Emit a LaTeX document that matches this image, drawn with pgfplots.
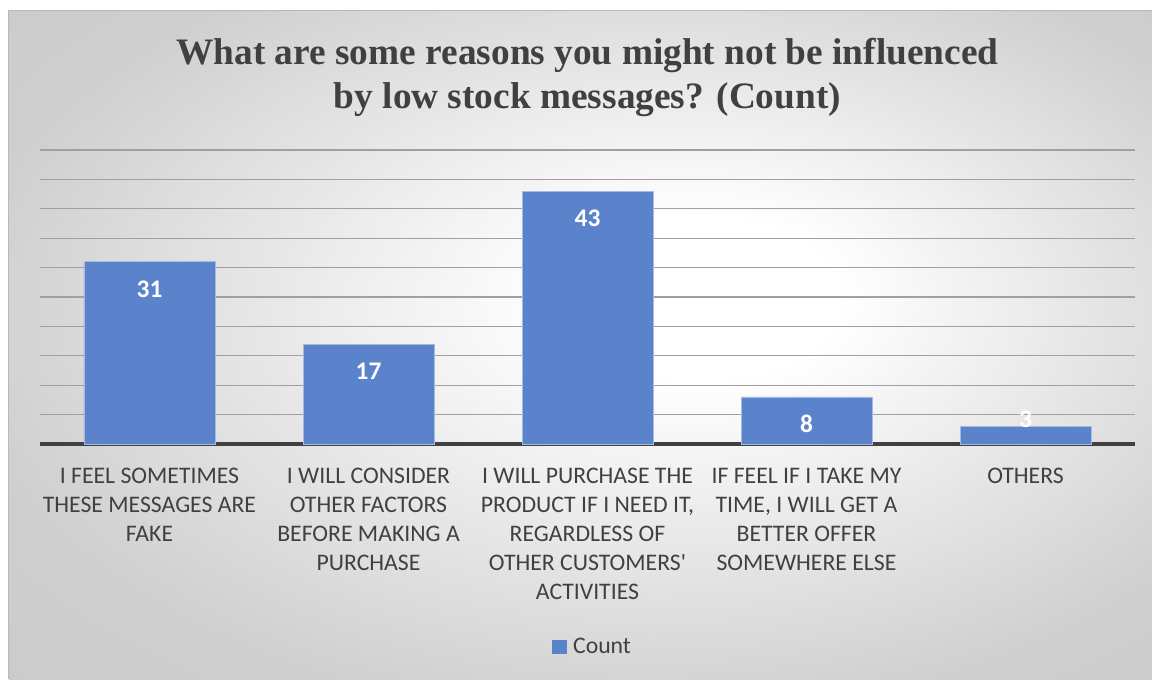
\documentclass[border=0pt]{standalone}
\usepackage{fontspec}
\setmainfont{Carlito}
\newfontfamily\titlefont{Liberation Serif}
\usepackage{pgfplots}
\pgfplotsset{compat=1.18}
\definecolor{barblue}{RGB}{91,131,204}
\definecolor{txt}{RGB}{64,64,64}
\definecolor{gridc}{RGB}{160,160,160}
\pgfdeclareradialshading{panel}{\pgfpoint{6bp}{4bp}}{color(0bp)=(white); color(6bp)=(white); color(30bp)=(gray!38); color(50bp)=(gray!45)}

\begin{document}
\begin{tikzpicture}
  % page and gradient panel (pixel layout: 1px = 0.75pt, origin at axis corner)
  \useasboundingbox (-30pt,-176.25pt) rectangle (834pt,333pt);
  \fill[white] (-30pt,-176.25pt) rectangle (834pt,333pt);
  \shade[shading=panel] (-23.25pt,-176.25pt) rectangle (834pt,324.75pt);
  \draw[gray!55, line width=0.75pt] (-23.25pt,-176.25pt) -- (-23.25pt,324.75pt) -- (834pt,324.75pt);
  \begin{axis}[
      at={(0pt,0pt)}, anchor=south west,
      width=821.25pt, height=220.5pt, scale only axis,
      ybar, bar width=98.25pt,
      xmin=-0.5, xmax=4.5, ymin=0, ymax=50,
      xtick={0,...,4},
      xticklabels={
        {I FEEL SOMETIMES\\THESE MESSAGES ARE\\FAKE},
        {I WILL CONSIDER\\OTHER FACTORS\\BEFORE MAKING A\\PURCHASE},
        {I WILL PURCHASE THE\\PRODUCT IF I NEED IT,\\REGARDLESS OF\\OTHER CUSTOMERS\textquotesingle\\ACTIVITIES},
        {IF FEEL IF I TAKE MY\\TIME, I WILL GET A\\BETTER OFFER\\SOMEWHERE ELSE},
        {OTHERS}},
      ytick={5,10,...,50}, yticklabels={},
      ymajorgrids, grid style={gridc, line width=0.9pt},
      axis lines*=left,
      x axis line style={txt, line width=2.4pt},
      y axis line style={draw=none},
      tick style={draw=none},
      xticklabel style={font=\fontsize{17.8}{21.75}\selectfont, text=txt, align=center, yshift=-10.5pt},
      /pgf/number format/assume math mode=true,
      nodes near coords,
      visualization depends on={y \as \rawy},
      every node near coord/.append style={font=\bfseries\fontsize{19}{22}\selectfont,
        text=white, anchor=center, yshift={\rawy<5 ? 5 : -20.5}},
      title={What are some reasons you might not be influenced\\by low stock messages? (Count)},
      title style={at={(0.5,1.22)}, anchor=center, align=center, text=txt,
        font=\titlefont\bfseries\fontsize{28}{33}\selectfont},
      legend style={at={(0.505,-0.69)}, anchor=center, draw=none, fill=none,
        font=\fontsize{17.8}{22}\selectfont, text=txt,
        /tikz/every odd column/.append style={column sep=3pt}},
      legend image code/.code={\fill[barblue] (0pt,-5pt) rectangle (10pt,5pt);},
    ]
    \addplot[fill=barblue, draw=barblue!55!white, line width=0.6pt]
      coordinates {(0,31) (1,17) (2,43) (3,8) (4,3)};
    \legend{Count}
  \end{axis}
\end{tikzpicture}
\end{document}
